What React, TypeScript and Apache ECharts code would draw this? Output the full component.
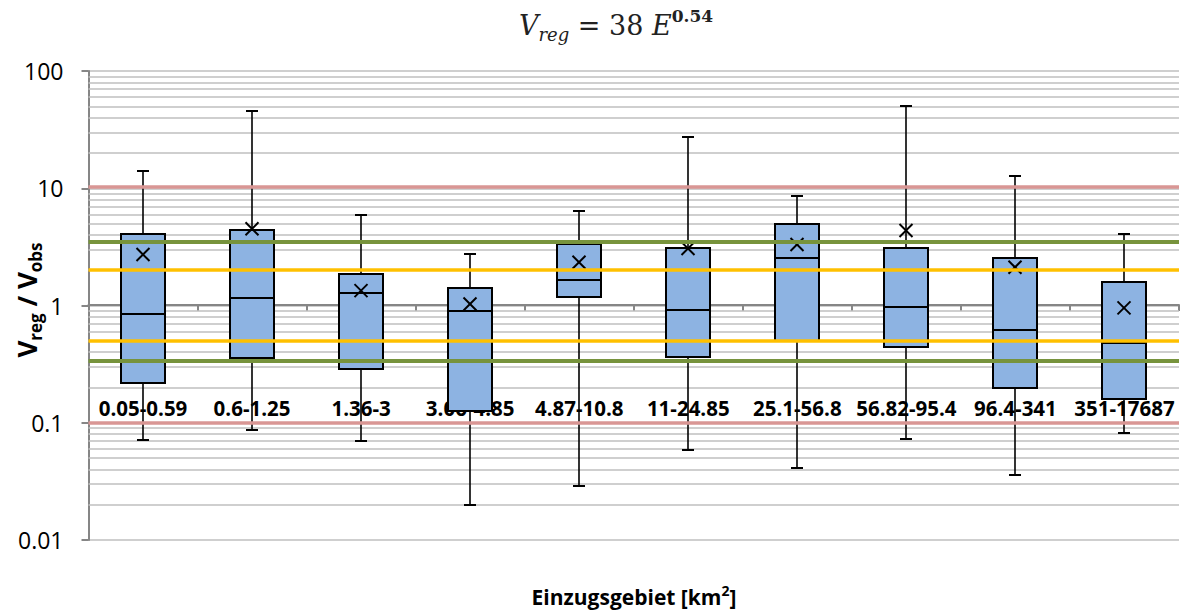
import React, { useEffect, useRef } from "react";
import * as echarts from "echarts";

// Catchment-area classes (km²)
const categories = [
  "0.05-0.59",
  "0.6-1.25",
  "1.36-3",
  "3.06-4.85",
  "4.87-10.8",
  "11-24.85",
  "25.1-56.8",
  "56.82-95.4",
  "96.4-341",
  "351-17687",
];

// Ratio V_reg / V_obs per class
const whiskerLow = [0.071, 0.086, 0.07, 0.02, 0.029, 0.059, 0.041, 0.072, 0.036, 0.082];
const quartile1 = [0.22, 0.355, 0.29, 0.125, 1.18, 0.365, 0.5, 0.44, 0.197, 0.16];
const median = [0.85, 1.155, 1.29, 0.9, 1.655, 0.91, 2.53, 0.97, 0.62, 0.477];
const quartile3 = [4.08, 4.42, 1.86, 1.4, 3.34, 3.1, 5.0, 3.1, 2.55, 1.6];
const whiskerHigh = [14.1, 46, 5.9, 2.76, 6.37, 27.3, 8.67, 49.8, 12.6, 4.11];
const mean = [2.72, 4.51, 1.34, 1.03, 2.34, 3.06, 3.31, 4.36, 2.12, 0.955];

// Reference factor bands
const factorTenBand = [10.3, 0.1];
const factorThreeBand = [3.5, 0.34];
const factorTwoBand = [2, 0.5];

// Log axis range and labels
const yMin = 0.01;
const yMax = 100;
const yTickLabels = ["0.01", "0.1", "1", "10", "100"];

const FONT = "'Open Sans', 'Liberation Sans', sans-serif";
const SERIF = "'DejaVu Serif', serif";

function minorGridValues(): number[] {
  const out: number[] = [];
  for (let base = yMin; base < yMax * 0.999; base *= 10) {
    for (let k = 2; k <= 9; k++) out.push(+(base * k).toPrecision(6));
  }
  return out;
}

function bandLines(values: number[], color: string, width: number) {
  return {
    type: "line",
    data: [],
    silent: true,
    z: 6,
    markLine: {
      z: 6,
      silent: true,
      symbol: ["none", "none"],
      label: { show: false },
      emphasis: { disabled: true },
      lineStyle: { color, width, type: "solid" },
      data: values.map((v) => ({ yAxis: v })),
    },
  };
}

export default function App() {
  const ref = useRef<HTMLDivElement>(null);

  useEffect(() => {
    if (!ref.current) return;
    const chart = echarts.init(ref.current, undefined, { renderer: "svg" });

    const boxData = categories.map((_, i) => [
      i,
      whiskerLow[i],
      quartile1[i],
      median[i],
      quartile3[i],
      whiskerHigh[i],
      mean[i],
    ]);

    const option: any = {
      animation: false,
      backgroundColor: "#ffffff",
      grid: { left: 88.5, right: 10, top: 71, bottom: 70, containLabel: false, outerBoundsMode: "none" },
      xAxis: [
        {
          // axis line crossing at 1
          type: "category",
          data: categories,
          position: "bottom",
          offset: -235,
          boundaryGap: true,
          axisLine: { show: true, lineStyle: { color: "#868686", width: 2 } },
          axisTick: { show: true, length: 6, lineStyle: { color: "#868686", width: 2 } },
          axisLabel: { show: false },
          splitLine: { show: false },
        },
        {
          // category labels
          type: "category",
          data: categories,
          position: "bottom",
          offset: -132,
          boundaryGap: true,
          axisLine: { show: false },
          axisTick: { show: false },
          axisLabel: {
            show: true,
            margin: 0,
            interval: 0,
            verticalAlign: "middle",
            fontFamily: FONT,
            fontWeight: "bold",
            fontSize: 20.5,
            color: "#000",
          },
          splitLine: { show: false },
        },
      ],
      yAxis: {
        type: "log",
        logBase: 10,
        min: yMin,
        max: yMax,
        splitNumber: 4,
        axisLine: { show: true, lineStyle: { color: "#868686", width: 2 } },
        axisTick: { show: true, length: 7, lineStyle: { color: "#868686", width: 2 } },
        axisLabel: {
          margin: 25,
          align: "right",
          fontFamily: FONT,
          fontSize: 23,
          color: "#000",
          formatter: (v: number) => yTickLabels[Math.round(Math.log10(v)) + 2] ?? "",
        },
        splitLine: { show: true, lineStyle: { color: "#BFBFBF", width: 1.5 } },
      },
      graphic: [
        {
          // formula title
          type: "text",
          x: 616,
          y: 25,
          style: {
            text: "{v|V}{sub|reg}{n| = 38 }{v|E}{sup|0.54}",
            align: "center",
            verticalAlign: "middle",
            fill: "#222",
            rich: {
              v: { fontFamily: SERIF, fontStyle: "italic", fontSize: 27, lineHeight: 36, fill: "#222" },
              n: { fontFamily: SERIF, fontSize: 27, lineHeight: 36, fill: "#222" },
              sub: {
                fontFamily: SERIF,
                fontStyle: "italic",
                fontSize: 18,
                lineHeight: 16,
                verticalAlign: "bottom",
                fill: "#222",
              },
              sup: {
                fontFamily: SERIF,
                fontWeight: "bold",
                fontSize: 17,
                lineHeight: 17,
                verticalAlign: "top",
                fill: "#222",
              },
            },
          },
        },
        {
          // y-axis title
          type: "text",
          x: 27,
          y: 300,
          rotation: Math.PI / 2,
          style: {
            text: "{v|V}{s|reg}{v| / V}{s|obs}",
            align: "center",
            verticalAlign: "middle",
            fill: "#000",
            rich: {
              v: { fontFamily: FONT, fontWeight: "bold", fontSize: 26, lineHeight: 34, fill: "#000" },
              s: {
                fontFamily: FONT,
                fontWeight: "bold",
                fontSize: 17,
                lineHeight: 17,
                verticalAlign: "bottom",
                fill: "#000",
              },
            },
          },
        },
        {
          // x-axis title
          type: "text",
          x: 634,
          y: 597,
          style: {
            text: "{a|Einzugsgebiet [km}{s|2}{a|]}",
            align: "center",
            verticalAlign: "middle",
            fill: "#000",
            rich: {
              a: { fontFamily: FONT, fontWeight: "bold", fontSize: 21, lineHeight: 28, fill: "#000" },
              s: {
                fontFamily: FONT,
                fontWeight: "bold",
                fontSize: 14,
                lineHeight: 14,
                verticalAlign: "top",
                fill: "#000",
              },
            },
          },
        },
      ],
      series: [
        {
          // minor gridlines of the log axis
          type: "line",
          data: [],
          silent: true,
          z: 1,
          markLine: {
            z: 1,
            silent: true,
            symbol: ["none", "none"],
            label: { show: false },
            emphasis: { disabled: true },
            lineStyle: { color: "#BFBFBF", width: 1.5, type: "solid" },
            data: minorGridValues().map((v) => ({ yAxis: v })),
          },
        },
        {
          type: "custom",
          xAxisIndex: 0,
          z: 3,
          clip: false,
          silent: true,
          encode: { x: 0, y: [1, 2, 3, 4, 5, 6] },
          data: boxData,
          renderItem: (_params: any, api: any) => {
            const idx = api.value(0);
            const pLo = api.coord([idx, api.value(1)]);
            const pQ1 = api.coord([idx, api.value(2)]);
            const pMed = api.coord([idx, api.value(3)]);
            const pQ3 = api.coord([idx, api.value(4)]);
            const pHi = api.coord([idx, api.value(5)]);
            const pMean = api.coord([idx, api.value(6)]);
            const band = api.size([1, 1])[0];
            const half = Math.round(band * 0.202);
            const cap = 6;
            const x = Math.round(pMed[0]);
            const yQ3 = Math.round(pQ3[1]);
            const yQ1 = Math.round(pQ1[1]);
            const seg = (x1: number, y1: number, x2: number, y2: number, w: number) => ({
              type: "line",
              shape: { x1, y1, x2, y2 },
              style: { stroke: "#000", lineWidth: w },
            });
            const m = 6.5;
            return {
              type: "group",
              children: [
                seg(x, pHi[1], x, pLo[1], 1.6),
                seg(x - cap, Math.round(pHi[1]), x + cap, Math.round(pHi[1]), 2),
                seg(x - cap, Math.round(pLo[1]), x + cap, Math.round(pLo[1]), 2),
                {
                  type: "rect",
                  shape: { x: x - half, y: yQ3, width: 2 * half, height: yQ1 - yQ3 },
                  style: { fill: "#8DB3E2", stroke: "#000", lineWidth: 2 },
                },
                seg(x - half, Math.round(pMed[1]), x + half, Math.round(pMed[1]), 2),
                seg(x - m, pMean[1] - m, x + m, pMean[1] + m, 2),
                seg(x - m, pMean[1] + m, x + m, pMean[1] - m, 2),
              ],
            };
          },
        },
        bandLines(factorTenBand, "#D99694", 3.5),
        bandLines(factorThreeBand, "#77933C", 4),
        bandLines(factorTwoBand, "#FFC000", 3.5),
      ],
    };

    chart.setOption(option);
    return () => chart.dispose();
  }, []);

  return (
    <div
      ref={ref}
      style={{ position: "fixed", left: 0, top: 0, width: 1189, height: 610, background: "#fff" }}
    />
  );
}
